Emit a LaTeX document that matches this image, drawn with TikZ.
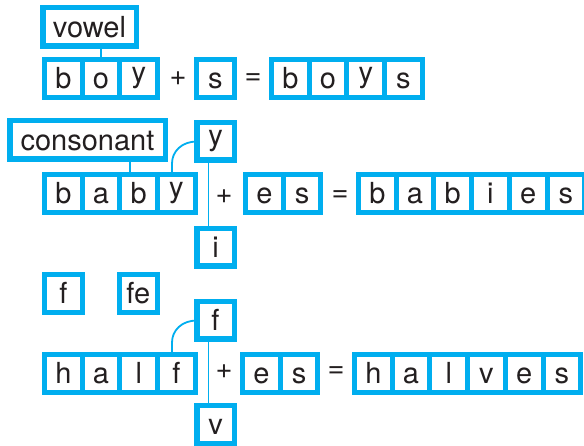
\documentclass[tikz,border=0pt]{standalone}
\usepackage{fontspec}
\setmainfont{TeX Gyre Heros}
\usetikzlibrary{backgrounds}
\definecolor{bluec}{RGB}{0,174,239}
\definecolor{textc}{RGB}{35,31,32}
\newcommand\ry{\raisebox{\depth}{y}}
\tikzset{
  every node/.style={font=\fontsize{29}{34}\selectfont, text=textc},
  wordbg/.style={anchor=north west, fill=bluec, draw=none, minimum height=43pt, inner sep=0pt, outer sep=0pt},
  cellbox/.style={anchor=north west, fill=white, draw=none, minimum width=32.7pt, minimum height=33pt, inner sep=0pt, outer sep=0pt, text height=21pt, text depth=0pt},
  lblbox/.style={draw=bluec, line width=5.5pt, fill=white, inner sep=0pt, outer sep=0pt, text height=21pt, text depth=0pt},
  onebox/.style={lblbox, minimum width=37.5pt, minimum height=37.5pt},
  sign/.style={inner sep=0pt},
  conn/.style={draw=bluec, line width=1.8pt}
}
\newcommand\wordbox[5]{%
  \pgfmathsetmacro\wbw{10+37.7*(#4-1)+32.7}%
  \node[wordbg, minimum width=\wbw pt] (#1) at (#2,#3) {};
  \foreach \l [count=\i from 0] in {#5} {
    \node[cellbox] (#1-\i) at ({#2+5+37.7*\i},{#3+5}) {\l};
  }
}
\begin{document}
\begin{tikzpicture}[x=1pt, y=-1pt]
\useasboundingbox (0,0) rectangle (584,446);
% row 1
\node[lblbox, minimum width=93.5pt, minimum height=38.5pt] (vowel) at (89.5,27) {vowel};
\wordbox{boy}{42}{57}{3}{b,o,\ry}
\node[sign] (plus1) at (178,79) {+};
\wordbox{s1}{194}{57}{1}{s}
\node[sign] (eq1) at (253,79.5) {=};
\wordbox{boys}{269}{57}{4}{b,o,\ry,s}
% row 2
\node[lblbox, minimum width=155.5pt, minimum height=38.5pt] (consonant) at (87.5,140) {consonant};
\node[onebox] (ybox) at (215.5,141.5) {\ry};
\wordbox{baby}{42}{172}{4}{b,a,b,\ry}
\node[sign] (plus2) at (224,197) {+};
\wordbox{es1}{243}{172}{2}{e,s}
\node[sign] (eq2) at (340,196) {=};
\wordbox{babies}{356}{172}{6}{b,a,b,i,e,s}
\node[onebox] (ibox) at (215.5,247.5) {i};
% row 3
\wordbox{fone}{42}{272}{1}{f}
\wordbox{fe}{117}{272}{1}{fe}
% row 4
\node[onebox] (fbox) at (215.5,320.5) {f};
\wordbox{half}{42}{352}{4}{h,a,l,f}
\node[sign] (plus3) at (224,372) {+};
\wordbox{es2}{240}{352}{2}{e,s}
\node[sign] (eq3) at (336,372) {=};
\wordbox{halves}{352}{352}{6}{h,a,l,v,e,s}
\node[onebox] (vbox) at (215.5,424.5) {v};
% connectors
\coordinate (yarc) at (172,163.5);
\coordinate (farc) at (172,342.5);
\begin{scope}[on background layer]
  \fill[white] (0,0) rectangle (584,446);
  \draw[conn] (boy-1.north |- vowel.south) -- (boy-1.north);
  \draw[conn] ([xshift=-8.8pt]baby-2.north) -- ([xshift=-8.8pt]baby-2.north |- consonant.south);
  \draw[conn] (ybox.west) .. controls (181.85,141.5) and (172,151.35) .. (yarc) -- (yarc |- baby-3.north);
  \draw[conn] ([xshift=-7pt]ybox.south) -- ([xshift=-7pt]ibox.north);
  \draw[conn] (fbox.west) .. controls (181.85,320.5) and (172,330.35) .. (farc) -- (farc |- half-3.north);
  \draw[conn] ([xshift=-7pt]fbox.south) -- ([xshift=-7pt]vbox.north);
\end{scope}
\end{tikzpicture}
\end{document}
